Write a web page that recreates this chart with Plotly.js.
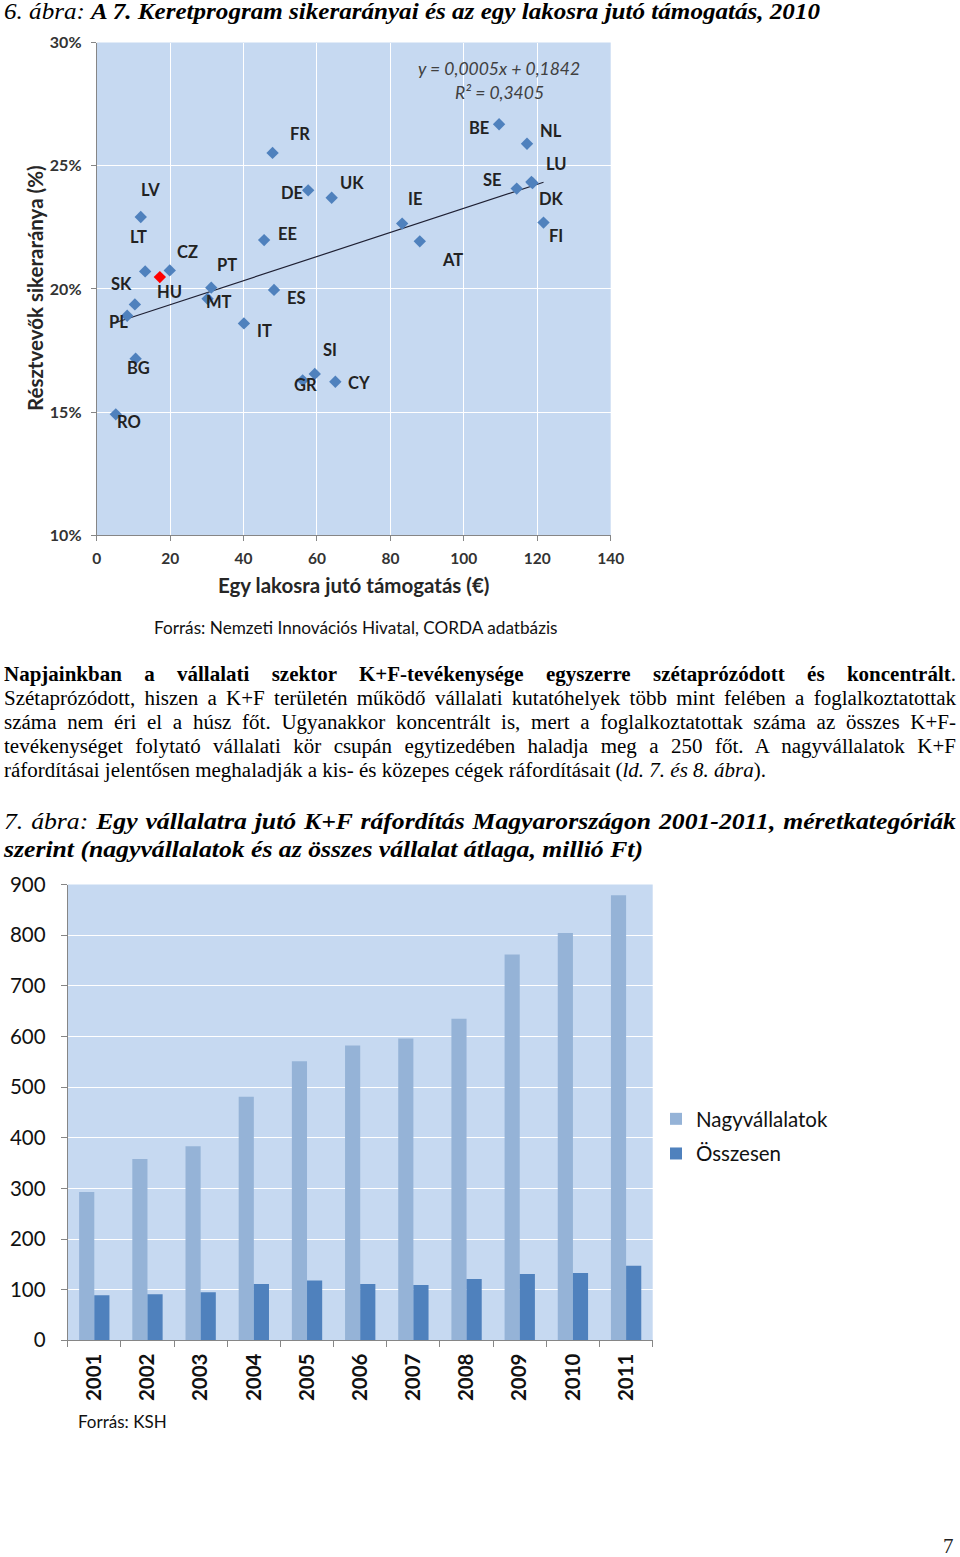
<!DOCTYPE html>
<html lang="hu">
<head>
<meta charset="utf-8">
<script src="https://cdn.plot.ly/plotly-3.0.1.min.js"></script>
<style>
html,body{margin:0;padding:0;background:#fff;}
#page{position:relative;width:960px;height:1557px;overflow:hidden;}
#chart{position:absolute;left:0;top:0;width:960px;height:1557px;}
.txt{position:absolute;left:4px;white-space:nowrap;transform-origin:0 50%;font-family:'Liberation Serif','Times New Roman',serif;color:#000;}
.cap{font-size:23px;line-height:28px;}
.par{font-size:20px;line-height:24px;}
.just{text-align:justify;text-align-last:justify;}
#pnum{position:absolute;left:943px;top:1533px;font-family:'Liberation Serif',serif;font-size:21px;line-height:26px;color:#222;}
</style>
</head>
<body>
<div id="page">
<div id="chart"></div>

<div class="txt cap" id="t6" style="top:-2px" data-w="816" data-g="cap"><span><i>6. ábra:</i> <b><i>A 7. Keretprogram sikerarányai és az egy lakosra jutó támogatás, 2010</i></b></span></div>

<div class="txt par" style="top:662px" data-w="952" data-j="1" data-g="par"><span><b>Napjainkban a vállalati szektor K+F-tevékenysége egyszerre szétaprózódott és koncentrált</b>.</span></div>
<div class="txt par" style="top:686px" data-w="952" data-j="1" data-g="par"><span>Szétaprózódott, hiszen a K+F területén működő vállalati kutatóhelyek több mint felében a foglalkoztatottak</span></div>
<div class="txt par" style="top:710px" data-w="952" data-j="1" data-g="par"><span>száma nem éri el a húsz főt. Ugyanakkor koncentrált is, mert a foglalkoztatottak száma az összes K+F-</span></div>
<div class="txt par" style="top:734px" data-w="952" data-j="1" data-g="par"><span>tevékenységet folytató vállalati kör csupán egytizedében haladja meg a 250 főt. A nagyvállalatok K+F</span></div>
<div class="txt par" style="top:758px" data-w="762" data-g="par" data-ref="1"><span>ráfordításai jelentősen meghaladják a kis- és közepes cégek ráfordításait (<i>ld. 7. és 8. ábra</i>).</span></div>

<div class="txt cap" style="top:808px" data-w="952" data-j="1" data-g="cap7"><span><i>7. ábra:</i> <b><i>Egy vállalatra jutó K+F ráfordítás Magyarországon 2001-2011, méretkategóriák</i></b></span></div>
<div class="txt cap" style="top:836px" data-w="639" data-g="cap7" data-ref="1"><span><b><i>szerint (nagyvállalatok és az összes vállalat átlaga, millió Ft)</i></b></span></div>

<div id="pnum">7</div>
</div>

<script>
// ---------- Figure 6 data ----------
const countries = ['RO','BG','PL','SK','LV','LT','HU','CZ','MT','PT','IT','EE','ES','FR','DE','UK','GR','SI','CY','IE','AT','BE','NL','SE','LU','DK','FI'];
const supportPerCapita = [5.2,10.6,8.3,10.4,12.0,13.2,17.2,19.9,30.2,31.2,40.1,45.6,48.3,47.9,57.6,64.0,56.1,59.4,65.0,83.2,88.0,109.6,117.2,114.4,118.4,118.7,121.7];
const successRate = [14.91,17.17,18.91,19.37,22.92,20.71,20.48,20.75,19.60,20.05,18.60,21.98,19.96,25.52,24.00,23.70,16.29,16.55,16.23,22.65,21.93,26.68,25.89,24.07,24.34,24.30,22.69];
const highlightCountry = 'HU';
const trendEquation = 'y = 0,0005x + 0,1842';
const trendR2 = 'R² = 0,3405';

// ---------- Figure 7 data ----------
const years = ['2001','2002','2003','2004','2005','2006','2007','2008','2009','2010','2011'];
const largeFirms = [293,358,383,481,551,582,596,635,762,804,879];
const allFirms = [89,91,95,111,118,111,109,121,131,133,147];

// ---------- layout helpers ----------
const W = 960, H = 1557;
const px = v => v / W;
const py = v => 1 - v / H;
const FONT = 'Lato, "Open Sans", sans-serif';
const BLUE = '#4F81BD', LIGHT = '#95B3D7', RED = '#FF0000', AXIS = '#868686';

// label offsets in pixels (right, down)
const labelOffset = {
  RO:[13,8], BG:[3,9], PL:[-9,6], SK:[-13,-20], LV:[10,-27], LT:[-7,-34], HU:[10,15], CZ:[18,-18],
  MT:[11,3], PT:[16,-23], IT:[21,8], EE:[23,-6], ES:[22,8], FR:[27,-19], DE:[-16,3], UK:[20,-15],
  GR:[3,5], SI:[15,-24], CY:[24,1], IE:[13,-25], AT:[33,19], BE:[-20,4], NL:[24,-13], SE:[-24,-9],
  LU:[25,-18], DK:[19,16], FI:[12,13]
};

// least-squares trend line from the data
const n = supportPerCapita.length;
const mx = supportPerCapita.reduce((a,b)=>a+b,0)/n;
const my = successRate.reduce((a,b)=>a+b,0)/n;
let sxy = 0, sxx = 0;
for (let i=0;i<n;i++){ sxy += (supportPerCapita[i]-mx)*(successRate[i]-my); sxx += (supportPerCapita[i]-mx)**2; }
const slope = sxy/sxx, intercept = my - slope*mx;
const xmin = Math.min(...supportPerCapita), xmax = Math.max(...supportPerCapita);

const traces = [
  {x:[xmin,xmax], y:[intercept+slope*xmin, intercept+slope*xmax], mode:'lines', xaxis:'x', yaxis:'y',
   line:{color:'#1f2033', width:1.2}, showlegend:false, hoverinfo:'skip'},
  {x:supportPerCapita, y:successRate, text:countries, mode:'markers', xaxis:'x', yaxis:'y', showlegend:false,
   marker:{symbol:'diamond', size:9.5, color:countries.map(c => c===highlightCountry ? RED : BLUE), line:{width:0}}},
  {x:years, y:largeFirms, type:'bar', name:'Nagyvállalatok', xaxis:'x2', yaxis:'y2', legendgroup:'a',
   marker:{color:LIGHT}},
  {x:years, y:allFirms, type:'bar', name:'Összesen', xaxis:'x2', yaxis:'y2', legendgroup:'b',
   marker:{color:BLUE}}
];

const annotations = [];
countries.forEach((c,i)=>{
  const o = labelOffset[c] || [12,0];
  annotations.push({x:supportPerCapita[i], y:successRate[i], xref:'x', yref:'y', text:'<b>'+c+'</b>',
    showarrow:false, xanchor:'center', yanchor:'middle', xshift:o[0], yshift:-o[1],
    font:{family:FONT, size:16.5, color:'#222'}});
});
function paperText(x, y, text, size, color, extra){
  return Object.assign({x:px(x), y:py(y), xref:'paper', yref:'paper', text:text, showarrow:false,
    xanchor:'center', yanchor:'middle', font:{family:FONT, size:size, color:color}}, extra || {});
}
annotations.push(
  paperText(499, 69, '<i>'+trendEquation+'</i>', 17.5, '#404040'),
  paperText(499, 93, '<i>'+trendR2+'</i>', 17.5, '#404040'),
  paperText(35, 288, '<b>Résztvevők sikeraránya (%)</b>', 20.5, '#262626', {textangle:-90}),
  paperText(353, 585, '<b>Egy lakosra jutó támogatás (€)</b>', 20.5, '#262626'),
  paperText(355, 627, 'Forrás: Nemzeti Innovációs Hivatal, CORDA adatbázis', 17.2, '#111'),
  paperText(122, 1421, 'Forrás: KSH', 17, '#111')
);

const axisCommon = {showline:true, linecolor:AXIS, linewidth:1, ticks:'outside', tickcolor:AXIS, fixedrange:true, zeroline:false};

const layout = {
  width:W, height:H, margin:{l:0,r:0,t:0,b:0}, autosize:false,
  paper_bgcolor:'#ffffff', plot_bgcolor:'#C6D9F1',
  showlegend:true,
  xaxis:Object.assign({}, axisCommon, {domain:[px(96.7), px(610.7)], anchor:'y', range:[0,140], dtick:20, tick0:0,
    showgrid:true, gridcolor:'#ffffff', gridwidth:1, ticklen:5, ticklabelstandoff:4,
    tickfont:{family:FONT, size:15.5, weight:'bold', color:'#333'}}),
  yaxis:Object.assign({}, axisCommon, {domain:[py(535.3), py(42.5)], anchor:'x', range:[10,30], dtick:5, tick0:10,
    ticksuffix:'%', showgrid:true, gridcolor:'#ffffff', gridwidth:1, ticklen:5, ticklabelstandoff:6,
    tickfont:{family:FONT, size:16, weight:'bold', color:'#333'}}),
  xaxis2:Object.assign({}, axisCommon, {domain:[px(67.7), px(652.7)], anchor:'y2', type:'category',
    tickson:'boundaries', ticklen:6, tickangle:-90, showgrid:false, ticklabelstandoff:4,
    tickfont:{family:FONT, size:20.5, weight:'bold', color:'#111'}}),
  yaxis2:Object.assign({}, axisCommon, {domain:[py(1340.3), py(884.5)], anchor:'x2', range:[0,900], dtick:100,
    showgrid:true, gridcolor:'#ffffff', gridwidth:1, ticklen:6, ticklabelstandoff:11,
    tickfont:{family:FONT, size:20.5, color:'#111'}}),
  barmode:'group', bargap:0.43, bargroupgap:0,
  legend:{x:px(656), y:py(1099), xanchor:'left', yanchor:'top', traceorder:'grouped', tracegroupgap:5,
    bgcolor:'rgba(0,0,0,0)', font:{family:FONT, size:20.5, color:'#111'}},
  annotations:annotations
};

Plotly.newPlot('chart', traces, layout, {staticPlot:true, displayModeBar:false});

// ---------- fit the text lines to the reference widths ----------
function fitText(){
  const els = Array.from(document.querySelectorAll('.txt'));
  const groupScale = {};
  els.forEach(el=>{
    const w = +el.dataset.w, nat = el.firstElementChild.getBoundingClientRect().width;
    el._nat = nat;
    if (el.dataset.ref) groupScale[el.dataset.g] = w/nat;
  });
  els.forEach(el=>{
    const w = +el.dataset.w, nat = el._nat;
    let s;
    if (el.dataset.j){
      s = Math.min(groupScale[el.dataset.g] || 1, (w-1)/nat);
      el.style.whiteSpace = 'normal';
      el.style.width = (w/s) + 'px';
      el.classList.add('just');
    } else {
      s = w/nat;
    }
    el.style.transform = 'scaleX(' + s + ')';
  });
}
if (document.fonts && document.fonts.ready) document.fonts.ready.then(fitText); else fitText();
</script>
</body>
</html>
